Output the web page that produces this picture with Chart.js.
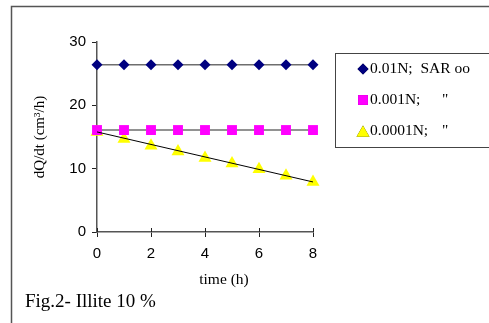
<!DOCTYPE html>
<html>
<head>
<meta charset="utf-8">
<script src="https://cdn.jsdelivr.net/npm/chart.js@4"></script>
<style>
  html, body { margin: 0; padding: 0; background: #fff; }
  #wrap { position: relative; width: 489px; height: 323px; }
</style>
</head>
<body>
<div id="wrap"><canvas id="myChart" width="489" height="323"></canvas></div>
<script>
// time (h)
var times = [0, 1, 2, 3, 4, 5, 6, 7, 8];
// dQ/dt values
var sar001 = [26.4, 26.4, 26.4, 26.4, 26.4, 26.4, 26.4, 26.4, 26.4];
var sar0001 = [16.1, 16.1, 16.1, 16.1, 16.1, 16.1, 16.1, 16.1, 16.1];
var sar00001 = [15.8, 14.7, 13.6, 12.7, 11.7, 10.8, 9.9, 8.9, 7.9];
// linear trend line end points for the 0.0001N series
var trendTimes = [0, 8];
var trendValues = [15.8, 7.9];
var seriesLabels = ['0.01N;  SAR oo', '0.001N;"', '0.0001N;"'];
var yTicks = [0, 10, 20, 30];
var xTicks = [0, 2, 4, 6, 8];

function pts(xs, ys) {
    return xs.map(function(x, i) { return { x: x, y: ys[i] }; });
}

// frame, legend box and captions drawn over the chart
var decor = {
    id: 'decor',
    afterDraw: function(chart) {
        var ctx = chart.ctx;
        var xs = chart.scales.x;
        ctx.save();
        // outer frame
        ctx.strokeStyle = '#555';
        ctx.lineWidth = 1.5;
        ctx.beginPath();
        ctx.moveTo(11.5, 323);
        ctx.lineTo(11.5, 6.5);
        ctx.lineTo(489, 6.5);
        ctx.stroke();

        // upward half of the x ticks
        ctx.strokeStyle = '#222';
        ctx.lineWidth = 1;
        xTicks.forEach(function(t) {
            var px = Math.round(xs.getPixelForValue(t)) + 0.5;
            ctx.beginPath();
            ctx.moveTo(px, chart.chartArea.bottom - 4);
            ctx.lineTo(px, chart.chartArea.bottom);
            ctx.stroke();
        });

        // legend box
        ctx.strokeStyle = '#444';
        ctx.lineWidth = 1;
        ctx.strokeRect(335.5, 53.5, 200, 94);
        ctx.font = '15.5px "Liberation Serif", "Times New Roman", serif';
        ctx.fillStyle = '#000';
        ctx.textBaseline = 'middle';
        var rows = [69, 100, 131];
        chart.data.datasets.slice(0, 3).forEach(function(ds, i) {
            Chart.helpers.drawPoint(ctx, {
                pointStyle: ds.pointStyle,
                radius: ds.pointRadius,
                borderWidth: 0
            }, 363, rows[i] + (ds.pointStyle === 'triangle' ? 2 : 0));
            ctx.fillStyle = ds.backgroundColor;
            ctx.fill();
            ctx.fillStyle = '#000';
            var parts = seriesLabels[i].split('"');
            ctx.textAlign = 'left';
            ctx.fillText(parts[0], 370, rows[i]);
            if (parts.length > 1) ctx.fillText('"', 442, rows[i]);
        });

        // x axis title and figure caption
        ctx.textAlign = 'center';
        ctx.fillText('time (h)', 224, 280);
        ctx.textAlign = 'left';
        ctx.textBaseline = 'alphabetic';
        ctx.font = '19px "Liberation Serif", "Times New Roman", serif';
        ctx.fillText('Fig.2- Illite 10 %', 25, 307);
        ctx.restore();
    }
};

var data = {
    datasets: [{
        label: seriesLabels[0],
        data: pts(times, sar001),
        borderColor: '#6e6e6e',
        borderWidth: 1.5,
        backgroundColor: '#000080',
        pointBackgroundColor: '#000080',
        pointBorderWidth: 0,
        pointStyle: 'rectRot',
        pointRadius: 5.5,
        clip: false,
        order: 2
    }, {
        label: seriesLabels[1],
        data: pts(times, sar0001),
        borderColor: '#6e6e6e',
        borderWidth: 1.5,
        backgroundColor: '#ff00ff',
        pointBackgroundColor: '#ff00ff',
        pointBorderWidth: 0,
        pointStyle: 'rect',
        pointRadius: 7,
        clip: false,
        order: 2
    }, {
        label: seriesLabels[2],
        data: pts(times, sar00001),
        showLine: false,
        backgroundColor: '#ffff00',
        pointBackgroundColor: '#ffff00',
        pointBorderWidth: 0,
        pointStyle: 'triangle',
        pointRadius: 7.5,
        clip: false,
        order: 2
    }, {
        label: 'trend',
        data: pts(trendTimes, trendValues),
        borderColor: '#000',
        borderWidth: 1,
        pointRadius: 0,
        clip: false,
        order: 1
    }]
};

var options = {
    responsive: false,
    animation: false,
    layout: { padding: { top: 42, right: 176, bottom: 0, left: 0 } },
    plugins: { legend: { display: false }, tooltip: { enabled: false } },
    scales: {
        x: {
            type: 'linear',
            min: 0,
            max: 8,
            afterFit: function(s) { s.height = 91; },
            afterBuildTicks: function(s) { s.ticks = xTicks.map(function(v) { return { value: v }; }); },
            border: { color: '#555', width: 1.5 },
            grid: { drawOnChartArea: false, tickLength: 5, color: '#222' },
            ticks: {
                padding: 8,
                color: '#000',
                maxRotation: 0,
                font: { family: '"Liberation Sans", Arial, sans-serif', size: 15 }
            }
        },
        y: {
            min: 0,
            max: 30,
            afterFit: function(s) { s.width = 97; },
            afterBuildTicks: function(s) { s.ticks = yTicks.map(function(v) { return { value: v }; }); },
            border: { color: '#555', width: 1.5 },
            grid: { drawOnChartArea: false, tickLength: 5, color: '#222' },
            ticks: {
                padding: 6,
                color: '#000',
                font: { family: '"Liberation Sans", Arial, sans-serif', size: 15 }
            },
            title: {
                display: true,
                text: 'dQ/dt (cm\u00b3/h)',
                color: '#000',
                padding: { top: 31, bottom: 0 },
                font: { family: '"Liberation Serif", "Times New Roman", serif', size: 15 }
            }
        }
    }
};

var ctx = document.getElementById('myChart').getContext('2d');
var myChart = new Chart(ctx, {
    type: 'line',
    data: data,
    options: options,
    plugins: [decor]
});
</script>
</body>
</html>
